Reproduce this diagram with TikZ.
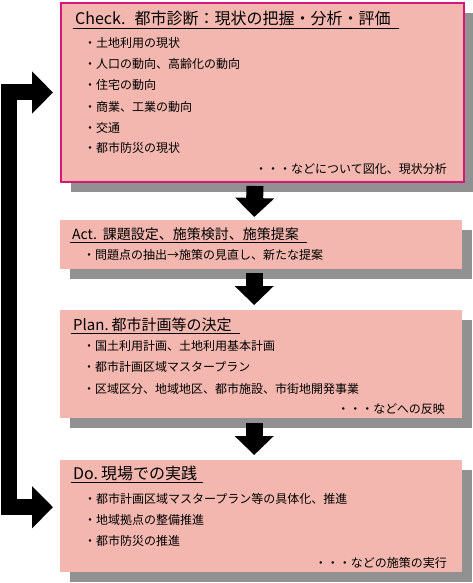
\documentclass[tikz,border=0pt]{standalone}
\usepackage{fontspec}
\setmainfont{Noto Sans CJK JP}
\usetikzlibrary{arrows.meta,shadows}
\definecolor{boxpink}{RGB}{243,183,175}
\definecolor{chkmagenta}{RGB}{214,22,120}
\definecolor{shadegray}{RGB}{145,145,145}

\begin{document}
\begin{tikzpicture}[x=1pt,y=-1pt,
  pdbox/.style={fill=boxpink,anchor=north west,inner sep=0pt,minimum width=402pt,
    drop shadow={shadow xshift=10pt,shadow yshift=-10pt,fill=shadegray,opacity=1}},
  ttl/.style={anchor=base west,inner xsep=2pt,inner ysep=0pt,font=\fontsize{#1}{#1}\selectfont},
  itm/.style={anchor=base west,inner sep=0pt,font=\fontsize{12}{14}\selectfont},
  nte/.style={itm,anchor=base east},
  uline/.style={line width=0.8pt},
  downarrow/.style={line width=17pt,-{Triangle[width=38pt,length=19pt]}},
  cyclearrow/.style={line width=16pt,{Triangle[width=41pt,length=21pt]}-{Triangle[width=41pt,length=21pt]}}]
\path[use as bounding box,fill=white] (0,0) rectangle (473,583);

\node[pdbox,draw=chkmagenta,line width=2pt,minimum width=403pt,minimum height=179pt] (check) at (60,2) {};
\node[pdbox,minimum height=49pt] (act) at (60,220) {};
\node[pdbox,minimum height=108pt] (plan) at (60,310) {};
\node[pdbox,minimum height=112pt] (do) at (60,460) {};

\node[ttl=16] (chkttl) at (73,25) {Check.\hspace{9pt}都市診断：現状の把握・分析・評価};
\draw[uline] ([yshift=-3pt]chkttl.base west) -- ([xshift=6pt,yshift=-3pt]chkttl.base east);
\node[itm] (chk1) at (84,47.5) {・土地利用の現状};
\node[itm] (chk2) at (84,68.5) {・人口の動向、高齢化の動向};
\node[itm] (chk3) at (84,89.5) {・住宅の動向};
\node[itm] (chk4) at (84,111) {・商業、工業の動向};
\node[itm] (chk5) at (84,132) {・交通};
\node[itm] (chk6) at (84,152.5) {・都市防災の現状};
\node[nte] (chknte) at (447,173.5) {・・・などについて図化、現状分析};

\node[ttl=14] (actttl) at (70,239) {Act.\hspace{6pt}課題設定、施策検討、施策提案};
\draw[uline] ([yshift=-3pt]actttl.base west) -- ([xshift=6pt,yshift=-3pt]actttl.base east);
\node[itm] (act1) at (83,259.5) {・問題点の抽出→施策の見直し、新たな提案};

\node[ttl=15] (planttl) at (71,330) {Plan.\hspace{3pt}都市計画等の決定};
\draw[uline] ([yshift=-3pt]planttl.base west) -- ([xshift=6pt,yshift=-3pt]planttl.base east);
\node[itm] (plan1) at (83,350.5) {・国土利用計画、土地利用基本計画};
\node[itm] (plan2) at (83,371.5) {・都市計画区域マスタープラン};
\node[itm] (plan3) at (83,393) {・区域区分、地域地区、都市施設、市街地開発事業};
\node[nte] (plannte) at (445,413) {・・・などへの反映};

\node[ttl=16] (dottl) at (71,479) {Do.\hspace{3pt}現場での実践};
\draw[uline] ([yshift=-3pt]dottl.base west) -- ([xshift=4pt,yshift=-3pt]dottl.base east);
\node[itm] (do1) at (84,503) {・都市計画区域マスタープラン等の具体化、推進};
\node[itm] (do2) at (84,524) {・地域拠点の整備推進};
\node[itm] (do3) at (84,545) {・都市防災の推進};
\node[nte] (donte) at (447,567.5) {・・・などの施策の実行};

\draw[downarrow] ([xshift=-7.5pt,yshift=-3pt]check.south) -- ([xshift=-7pt,yshift=3pt]act.north);
\draw[downarrow] ([xshift=-7pt,yshift=-4pt]act.south) -- ([xshift=-7pt,yshift=5pt]plan.north);
\draw[downarrow] ([xshift=-7pt,yshift=-5pt]plan.south) -- ([xshift=-7pt,yshift=5pt]do.north);
\draw[cyclearrow] ([xshift=-7pt]check.west) -- ++(-44,0) |- ([xshift=-7pt,yshift=9pt]do.west);
\end{tikzpicture}
\end{document}
